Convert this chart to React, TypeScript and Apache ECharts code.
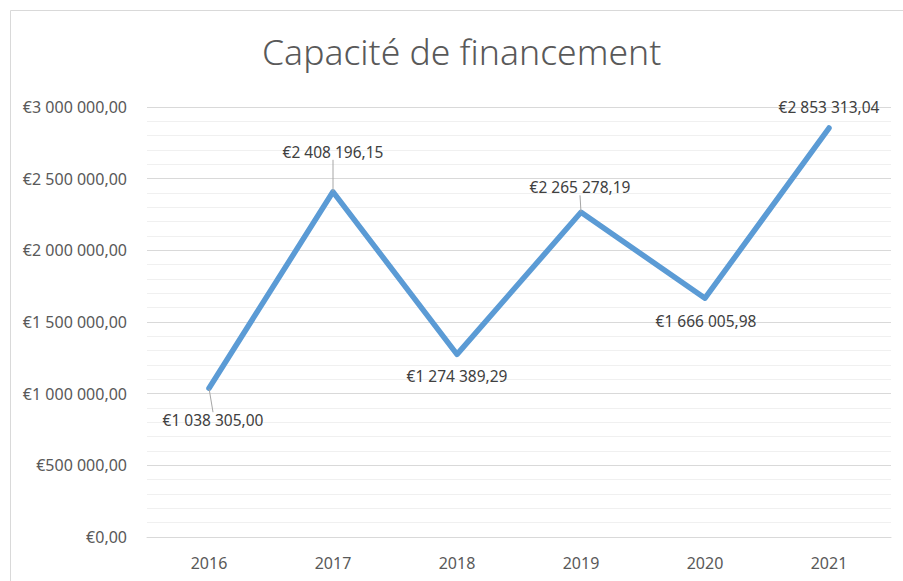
import React, { useEffect, useRef } from "react";
import * as echarts from "echarts";

const years = ["2016", "2017", "2018", "2019", "2020", "2021"];
const values = [1038305.0, 2408196.15, 1274389.29, 2265278.19, 1666005.98, 2853313.04];
const yTicks = [0, 500000, 1000000, 1500000, 2000000, 2500000, 3000000];
const titleText = "Capacité de financement";

// label offsets (px) relative to each point
const labelDx = [4, 0, 0, -1, 1, 0];
const labelDy = [32, -40, 22, -25, 23, -21];
const showLeader = [true, true, false, true, false, false];

function fmtEuro(v: number): string {
  const fixed = Math.abs(v).toFixed(2);
  const [intPart, dec] = fixed.split(".");
  const grouped = intPart.replace(/\B(?=(\d{3})+(?!\d))/g, " ");
  return "€" + grouped + "," + dec;
}

export default function App() {
  const ref = useRef<HTMLDivElement>(null);
  useEffect(() => {
    if (!ref.current) return;
    const chart = echarts.init(ref.current, null, { renderer: "svg" });
    const font = "'Noto Sans', 'Open Sans', sans-serif";
    chart.setOption({
      animation: false,
      backgroundColor: "#ffffff",
      graphic: [
        {
          type: "rect",
          shape: { x: 10.5, y: 10.5, width: 900, height: 580 },
          style: { fill: "none", stroke: "#d9d9d9", lineWidth: 1 },
          silent: true,
        },
      ],
      title: {
        text: titleText,
        left: 262,
        top: 33,
        padding: 0,
        textStyle: { fontFamily: font, fontSize: 35.5, fontWeight: 300, color: "#595959" },
      },
      grid: { left: 147, right: 12, top: 107, bottom: 44 },
      xAxis: {
        type: "category",
        data: years,
        boundaryGap: true,
        axisLine: { show: true, lineStyle: { color: "#d9d9d9", width: 1 } },
        axisTick: { show: false },
        axisLabel: { fontFamily: font, fontSize: 16, color: "#595959", margin: 18 },
      },
      yAxis: {
        type: "value",
        min: yTicks[0],
        max: yTicks[yTicks.length - 1],
        interval: 500000,
        axisLine: { show: false },
        axisTick: { show: false },
        axisLabel: {
          fontFamily: font,
          fontSize: 16,
          color: "#595959",
          margin: 20,
          formatter: (v: number) => fmtEuro(v),
        },
        splitLine: { show: true, lineStyle: { color: "#d9d9d9", width: 1 } },
        minorTick: { show: false, splitNumber: 5 },
        minorSplitLine: { show: true, lineStyle: { color: "#f0f0f0", width: 1 } },
      },
      series: [
        {
          type: "line",
          data: values.map((v, i) => ({
            value: v,
            labelLine: { show: showLeader[i] },
          })),
          showSymbol: true,
          symbol: "circle",
          symbolSize: 1,
          itemStyle: { color: "#5b9bd5" },
          lineStyle: { color: "#5b9bd5", width: 5.5, cap: "round", join: "round" },
          label: {
            show: true,
            position: "inside",
            fontFamily: font,
            fontSize: 15.5,
            color: "#404040",
            formatter: (p: any) => fmtEuro(p.value),
          },
          labelLine: { show: true, lineStyle: { color: "#a6a6a6", width: 1 } },
          labelLayout: (p: any) => ({ dx: labelDx[p.dataIndex], dy: labelDy[p.dataIndex] }),
        },
      ],
    });
    return () => chart.dispose();
  }, []);
  return (
    <div
      ref={ref}
      style={{ position: "absolute", left: 0, top: 0, width: 903, height: 581 }}
    />
  );
}
